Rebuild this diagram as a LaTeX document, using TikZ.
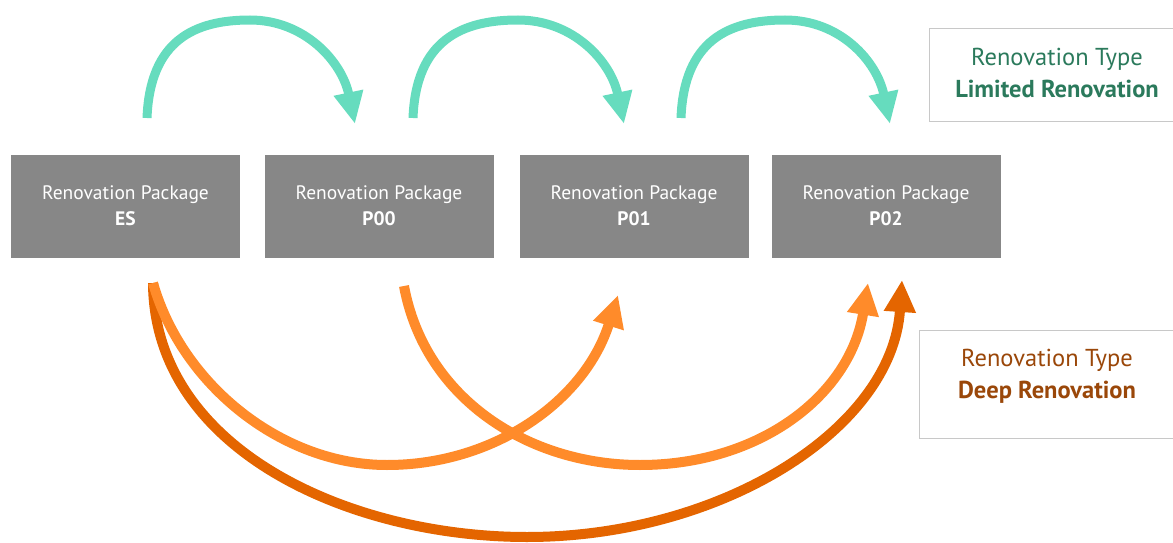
\documentclass[tikz,border=0pt]{standalone}
\usepackage{fontspec}
\setmainfont{PT Sans}
\usetikzlibrary{arrows.meta}
\definecolor{pkggray}{HTML}{878787}
\definecolor{teal}{HTML}{66DCBE}
\definecolor{lightor}{HTML}{FF8B2A}
\definecolor{darkor}{HTML}{E46500}
\definecolor{greentxt}{HTML}{2B7A5C}
\definecolor{browntxt}{HTML}{9A4709}
\definecolor{legendline}{HTML}{C8C8C8}
\begin{document}
\begin{tikzpicture}[x=1pt,y=-1pt,
  pkg/.style={fill=pkggray,draw=none,minimum width=229pt,minimum height=103pt,
    text=white,font=\fontsize{19.5}{26}\selectfont,align=center,inner sep=0pt},
  legend/.style={draw=legendline,line width=1.2pt,fill=white,inner sep=0pt},
  legendtext/.style={align=center,font=\fontsize{24.5}{32}\selectfont},
  limited/.style={teal,line width=9pt,-{Triangle[length=32pt,width=28pt]}},
  deeplight/.style={lightor,line width=10pt,-{Triangle[length=32pt,width=30pt]}},
  deepdark/.style={darkor,line width=10pt,-{Triangle[length=32pt,width=30pt]}}]
\useasboundingbox (0,0) rectangle (1173,543);
\clip (0,0) rectangle (1173,543);

% renovation packages
\node[pkg] (es)  at (125.5,206) {Renovation Package\\\textbf{ES}};
\node[pkg] (p00) at (379,206) {Renovation Package\\\textbf{P00}};
\node[pkg] (p01) at (634,206) {Renovation Package\\\textbf{P01}};
\node[pkg] (p02) at (886,206) {Renovation Package\\\textbf{P02}};

% legend boxes
\node[legend,minimum width=260pt,minimum height=93pt,anchor=north west]
  (limitedkey) at (929,28) {};
\node[legendtext,text=greentxt] (limitedtxt) at (1057,73)
  {Renovation Type\\\textbf{Limited Renovation}};
\node[legend,minimum width=270pt,minimum height=108pt,anchor=north west]
  (deepkey) at (919,330) {};
\node[legendtext,text=browntxt] (deeptxt) at (1047,376)
  {Renovation Type\\\textbf{Deep Renovation}};

% arrow end points
\coordinate (t1s) at (147,118); \coordinate (t1e) at (355,124);
\coordinate (t2s) at (413,118); \coordinate (t2e) at (624,124);
\coordinate (t3s) at (681,118); \coordinate (t3e) at (890,124);
\coordinate (esb)  at (153,283);
\coordinate (p00b) at (404,286);
\coordinate (p01t) at (618,295);
\coordinate (p02t) at (868,283);
\coordinate (p02u) at (902,280);

% limited renovation steps
\draw[limited] (t1s) .. controls (150,40) and (195,20) .. (250,20)
  .. controls (305,20) and (342,62) .. (t1e);
\draw[limited] (t2s) .. controls (416,40) and (462,20) .. (518,20)
  .. controls (574,20) and (611,62) .. (t2e);
\draw[limited] (t3s) .. controls (684,40) and (729,20) .. (785,20)
  .. controls (841,20) and (877,62) .. (t3e);

% deep renovation steps
\draw[deepdark] (esb) .. controls (154,450) and (350,537) .. (527,537)
  .. controls (720,537) and (892,430) .. (p02u);
\draw[deeplight] (esb) .. controls (182,385) and (282,465) .. (387,465)
  .. controls (495,465) and (585,400) .. (p01t);
\draw[deeplight] (p00b) .. controls (425,400) and (530,465) .. (640,465)
  .. controls (760,465) and (850,395) .. (p02t);
\end{tikzpicture}
\end{document}
